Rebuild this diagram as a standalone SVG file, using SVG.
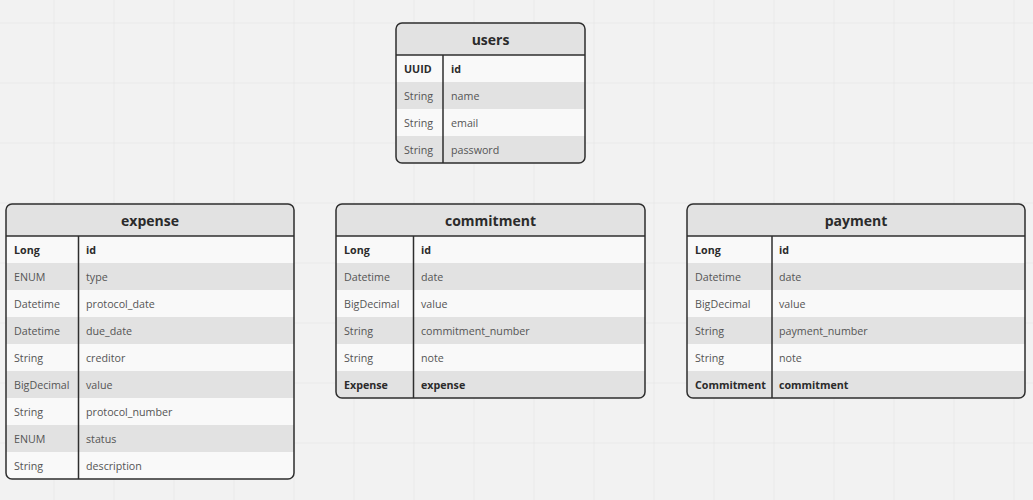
<svg xmlns="http://www.w3.org/2000/svg" width="1033" height="500" viewBox="0 0 1033 500">
<defs>
<pattern id="grid" x="-5.5" y="-36.5" width="60" height="60" patternUnits="userSpaceOnUse">
<path d="M60 0V60M0 60H60" fill="none" stroke="#e3e3e3" stroke-width="1"/>
</pattern>
<clipPath id="cu"><rect x="396" y="23" width="189" height="140" rx="6"/></clipPath>
<clipPath id="ce"><rect x="6" y="204" width="288" height="275" rx="6"/></clipPath>
<clipPath id="cc"><rect x="336" y="204" width="309" height="194" rx="6"/></clipPath>
<clipPath id="cp"><rect x="687" y="204" width="338" height="194" rx="6"/></clipPath>
</defs>
<style>
.hd{fill:#e2e2e2}
.lt{fill:#f9f9f9}
.dk{fill:#e2e2e2}
.bd{fill:none;stroke:#2e2e2e;stroke-width:1.5}
.ti{font-family:"Open Sans","Noto Sans",sans-serif;font-size:14px;font-weight:bold;fill:#2b2b2b;text-anchor:middle}
.t{font-family:"Open Sans","Noto Sans",sans-serif;font-size:10.7px;fill:#555}
.b{font-family:"Open Sans","Noto Sans",sans-serif;font-size:10.7px;font-weight:bold;fill:#2b2b2b}
</style>
<rect width="1033" height="500" fill="#f2f2f2"/>
<rect width="1033" height="500" fill="url(#grid)"/>
<g id="connectors"/>

<g id="users">
<g clip-path="url(#cu)">
<rect class="hd" x="396" y="23" width="189" height="32"/>
<rect class="lt" x="396" y="55" width="189" height="27"/>
<rect class="dk" x="396" y="82" width="189" height="27"/>
<rect class="lt" x="396" y="109" width="189" height="27"/>
<rect class="dk" x="396" y="136" width="189" height="27"/>
</g>
<line x1="396" y1="55" x2="585" y2="55" stroke="#2e2e2e" stroke-width="1.5"/>
<line x1="443" y1="55" x2="443" y2="163" stroke="#2e2e2e" stroke-width="1.5"/>
<rect class="bd" x="396" y="23" width="189" height="140" rx="6"/>
<text class="ti" x="490.5" y="45">users</text>
<text class="b" x="404" y="73">UUID</text><text class="b" x="451" y="73">id</text>
<text class="t" x="404" y="100">String</text><text class="t" x="451" y="100">name</text>
<text class="t" x="404" y="127">String</text><text class="t" x="451" y="127">email</text>
<text class="t" x="404" y="154">String</text><text class="t" x="451" y="154">password</text>
</g>

<g id="expense">
<g clip-path="url(#ce)">
<rect class="hd" x="6" y="204" width="288" height="32"/>
<rect class="lt" x="6" y="236" width="288" height="27"/>
<rect class="dk" x="6" y="263" width="288" height="27"/>
<rect class="lt" x="6" y="290" width="288" height="27"/>
<rect class="dk" x="6" y="317" width="288" height="27"/>
<rect class="lt" x="6" y="344" width="288" height="27"/>
<rect class="dk" x="6" y="371" width="288" height="27"/>
<rect class="lt" x="6" y="398" width="288" height="27"/>
<rect class="dk" x="6" y="425" width="288" height="27"/>
<rect class="lt" x="6" y="452" width="288" height="27"/>
</g>
<line x1="6" y1="236" x2="294" y2="236" stroke="#2e2e2e" stroke-width="1.5"/>
<line x1="78.5" y1="236" x2="78.5" y2="479" stroke="#2e2e2e" stroke-width="1.5"/>
<rect class="bd" x="6" y="204" width="288" height="275" rx="6"/>
<text class="ti" x="150" y="226">expense</text>
<text class="b" x="14" y="254">Long</text><text class="b" x="86" y="254">id</text>
<text class="t" x="14" y="281">ENUM</text><text class="t" x="86" y="281">type</text>
<text class="t" x="14" y="308">Datetime</text><text class="t" x="86" y="308">protocol_date</text>
<text class="t" x="14" y="335">Datetime</text><text class="t" x="86" y="335">due_date</text>
<text class="t" x="14" y="362">String</text><text class="t" x="86" y="362">creditor</text>
<text class="t" x="14" y="389">BigDecimal</text><text class="t" x="86" y="389">value</text>
<text class="t" x="14" y="416">String</text><text class="t" x="86" y="416">protocol_number</text>
<text class="t" x="14" y="443">ENUM</text><text class="t" x="86" y="443">status</text>
<text class="t" x="14" y="470">String</text><text class="t" x="86" y="470">description</text>
</g>

<g id="commitment">
<g clip-path="url(#cc)">
<rect class="hd" x="336" y="204" width="309" height="32"/>
<rect class="lt" x="336" y="236" width="309" height="27"/>
<rect class="dk" x="336" y="263" width="309" height="27"/>
<rect class="lt" x="336" y="290" width="309" height="27"/>
<rect class="dk" x="336" y="317" width="309" height="27"/>
<rect class="lt" x="336" y="344" width="309" height="27"/>
<rect class="dk" x="336" y="371" width="309" height="27"/>
</g>
<line x1="336" y1="236" x2="645" y2="236" stroke="#2e2e2e" stroke-width="1.5"/>
<line x1="413.5" y1="236" x2="413.5" y2="398" stroke="#2e2e2e" stroke-width="1.5"/>
<rect class="bd" x="336" y="204" width="309" height="194" rx="6"/>
<text class="ti" x="490.5" y="226">commitment</text>
<text class="b" x="344" y="254">Long</text><text class="b" x="421" y="254">id</text>
<text class="t" x="344" y="281">Datetime</text><text class="t" x="421" y="281">date</text>
<text class="t" x="344" y="308">BigDecimal</text><text class="t" x="421" y="308">value</text>
<text class="t" x="344" y="335">String</text><text class="t" x="421" y="335">commitment_number</text>
<text class="t" x="344" y="362">String</text><text class="t" x="421" y="362">note</text>
<text class="b" x="344" y="389">Expense</text><text class="b" x="421" y="389">expense</text>
</g>

<g id="payment">
<g clip-path="url(#cp)">
<rect class="hd" x="687" y="204" width="338" height="32"/>
<rect class="lt" x="687" y="236" width="338" height="27"/>
<rect class="dk" x="687" y="263" width="338" height="27"/>
<rect class="lt" x="687" y="290" width="338" height="27"/>
<rect class="dk" x="687" y="317" width="338" height="27"/>
<rect class="lt" x="687" y="344" width="338" height="27"/>
<rect class="dk" x="687" y="371" width="338" height="27"/>
</g>
<line x1="687" y1="236" x2="1025" y2="236" stroke="#2e2e2e" stroke-width="1.5"/>
<line x1="772" y1="236" x2="772" y2="398" stroke="#2e2e2e" stroke-width="1.5"/>
<rect class="bd" x="687" y="204" width="338" height="194" rx="6"/>
<text class="ti" x="856" y="226">payment</text>
<text class="b" x="695" y="254">Long</text><text class="b" x="779" y="254">id</text>
<text class="t" x="695" y="281">Datetime</text><text class="t" x="779" y="281">date</text>
<text class="t" x="695" y="308">BigDecimal</text><text class="t" x="779" y="308">value</text>
<text class="t" x="695" y="335">String</text><text class="t" x="779" y="335">payment_number</text>
<text class="t" x="695" y="362">String</text><text class="t" x="779" y="362">note</text>
<text class="b" x="695" y="389">Commitment</text><text class="b" x="779" y="389">commitment</text>
</g>
</svg>
